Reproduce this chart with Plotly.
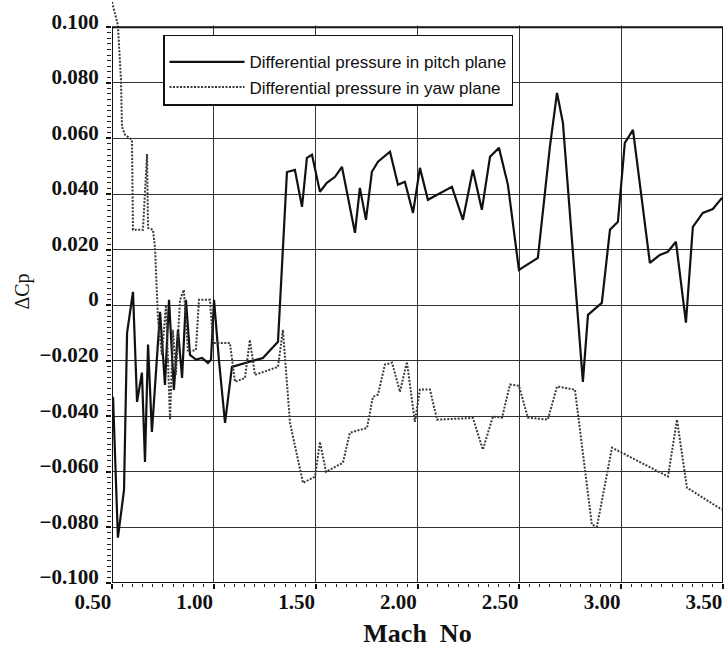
import numpy as np
import plotly.graph_objects as go

# ---- data ----
pitch_mach = [0.505, 0.529, 0.559, 0.574, 0.603, 0.623, 0.647, 0.662, 0.677, 0.696,
              0.736, 0.760, 0.780, 0.804, 0.824, 0.844, 0.863, 0.883, 0.912, 0.942,
              0.971, 0.986, 1.001, 1.025, 1.055, 1.089, 1.241, 1.315, 1.359, 1.398,
              1.433, 1.457, 1.482, 1.521, 1.555, 1.595, 1.629, 1.693, 1.717, 1.747,
              1.776, 1.806, 1.865, 1.904, 1.938, 1.978, 2.012, 2.051, 2.169, 2.223,
              2.272, 2.316, 2.356, 2.400, 2.444, 2.498, 2.591, 2.650, 2.685, 2.714,
              2.812, 2.837, 2.905, 2.945, 2.984, 3.018, 3.058, 3.141, 3.190, 3.229,
              3.269, 3.318, 3.352, 3.401, 3.450, 3.495]
pitch_dcp = [-0.0330, -0.0837, -0.0665, -0.0100, 0.0048, -0.0348, -0.0243, -0.0564, -0.0142, -0.0456,
             -0.0024, -0.0287, 0.0019, -0.0305, -0.0089, -0.0262, 0.0019, -0.0179, -0.0196, -0.0190,
             -0.0208, -0.0197, 0.0019, -0.0197, -0.0424, -0.0222, -0.0190, -0.0132, 0.0479, 0.0487,
             0.0354, 0.0530, 0.0541, 0.0408, 0.0440, 0.0462, 0.0498, 0.0260, 0.0422, 0.0307,
             0.0480, 0.0516, 0.0552, 0.0433, 0.0444, 0.0332, 0.0494, 0.0379, 0.0426, 0.0307,
             0.0487, 0.0343, 0.0534, 0.0566, 0.0433, 0.0127, 0.0170, 0.0570, 0.0764, 0.0656,
             -0.0276, -0.0035, 0.0008, 0.0271, 0.0300, 0.0584, 0.0631, 0.0152, 0.0181, 0.0192,
             0.0228, -0.0063, 0.0282, 0.0332, 0.0346, 0.0386]

yaw_mach = [0.500, 0.529, 0.544, 0.549, 0.564, 0.598, 0.603, 0.652, 0.672, 0.677,
            0.701, 0.711, 0.726, 0.745, 0.765, 0.785, 0.799, 0.814, 0.834, 0.853,
            0.873, 0.912, 0.927, 0.981, 0.996, 1.079, 1.104, 1.153, 1.177, 1.202,
            1.315, 1.339, 1.374, 1.438, 1.497, 1.521, 1.551, 1.634, 1.668, 1.752,
            1.781, 1.806, 1.840, 1.875, 1.914, 1.948, 1.987, 2.012, 2.061, 2.096,
            2.272, 2.321, 2.370, 2.415, 2.454, 2.498, 2.542, 2.640, 2.685, 2.773,
            2.856, 2.881, 2.955, 3.230, 3.274, 3.323, 3.495]
yaw_dcp = [0.1091, 0.1008, 0.0811, 0.0642, 0.0613, 0.0595, 0.0271, 0.0271, 0.0544, 0.0278,
           0.0271, 0.0210, -0.0053, -0.0179, 0.0001, -0.0413, -0.0089, -0.0251, 0.0019, 0.0055,
           -0.0168, -0.0161, 0.0019, 0.0019, -0.0136, -0.0136, -0.0276, -0.0262, -0.0125, -0.0251,
           -0.0222, -0.0089, -0.0424, -0.0640, -0.0617, -0.0492, -0.0600, -0.0567, -0.0459, -0.0442,
           -0.0330, -0.0322, -0.0214, -0.0207, -0.0312, -0.0204, -0.0420, -0.0304, -0.0304, -0.0412,
           -0.0406, -0.0520, -0.0401, -0.0405, -0.0286, -0.0290, -0.0405, -0.0412, -0.0293, -0.0304,
           -0.0790, -0.0797, -0.0513, -0.0617, -0.0412, -0.0657, -0.0736]

x_ticks = [0.5, 1.0, 1.5, 2.0, 2.5, 3.0, 3.5]
x_tick_text = ["0.50", "1.00", "1.50", "2.00", "2.50", "3.00", "3.50"]
y_ticks = [-0.1, -0.08, -0.06, -0.04, -0.02, 0.0, 0.02, 0.04, 0.06, 0.08, 0.1]
y_tick_text = ["\u22120.100", "\u22120.080", "\u22120.060", "\u22120.040", "\u22120.020", "0",
               "0.020", "0.040", "0.060", "0.080", "0.100"]

X_MIN, X_MAX = 0.5, 3.5
Y_MIN, Y_MAX = -0.1, 0.1
Y_TOP = 0.10982  # plot area extends a little above the frame so the yaw line can leave it

tick_font = dict(family="Liberation Serif", size=21, color="#111", weight="bold")
grid_col = "#333333"

fig = go.Figure()
fig.add_trace(go.Scatter(x=pitch_mach, y=pitch_dcp, mode="lines",
                         name="Differential pressure in pitch plane", legendgroup="a",
                         line=dict(color="#111", width=2.2)))
fig.add_trace(go.Scatter(x=yaw_mach, y=yaw_dcp, mode="lines",
                         name="Differential pressure in yaw plane", legendgroup="b",
                         line=dict(color="#3a3a3a", width=2, dash="2px,1.5px")))

# white band above the frame (hides grid there, drawn below traces)
fig.add_shape(type="rect", xref="x", yref="y", x0=X_MIN - 0.01, x1=X_MAX + 0.01,
              y0=Y_MAX + 0.0006, y1=Y_TOP + 0.001, fillcolor="white",
              line=dict(width=0), layer="between")
# frame
fig.add_shape(type="rect", xref="x", yref="y", x0=X_MIN, x1=X_MAX, y0=Y_MIN, y1=Y_MAX,
              line=dict(color="#111", width=2), fillcolor="rgba(0,0,0,0)", layer="above")

fig.update_xaxes(range=[X_MIN, X_MAX], tickvals=x_ticks, ticktext=x_tick_text,
                 showgrid=True, gridcolor=grid_col, gridwidth=1.4, zeroline=False,
                 showline=False, ticks="outside", ticklen=5, tickcolor="#111", tickwidth=1.5,
                 ticklabelposition="outside left", tickfont=tick_font,
                 minor=dict(tickvals=list(np.round(np.arange(0.5, 3.5001, 0.05), 3)),
                            ticks="outside", ticklen=3, tickcolor="#222", tickwidth=1.2,
                            showgrid=False),
                 title=dict(text="Mach\u00a0\u00a0No", standoff=12,
                            font=dict(family="Liberation Serif", size=26, color="#111",
                                      weight="bold")),
                 automargin=False)
fig.update_yaxes(range=[Y_MIN, Y_TOP], tickvals=y_ticks, ticktext=y_tick_text,
                 showgrid=True, gridcolor=grid_col, gridwidth=1.4, zeroline=False,
                 showline=False, ticks="outside", ticklen=5, tickcolor="#111", tickwidth=1.5,
                 ticklabelshift=-6, ticklabelstandoff=3, tickfont=tick_font,
                 minor=dict(tickvals=list(np.round(np.arange(-0.1, 0.1001, 0.002), 4)),
                            ticks="outside", ticklen=4, tickcolor="#222", tickwidth=1.2,
                            showgrid=False),
                 title=dict(text="\u0394Cp", standoff=4,
                            font=dict(family="Liberation Serif", size=20, color="#111")),
                 automargin=False)

fig.update_layout(
    width=727, height=648,
    margin=dict(l=112, r=4, t=0, b=65),
    plot_bgcolor="white", paper_bgcolor="white",
    showlegend=True,
    legend=dict(x=0.0835, y=0.94, xanchor="left", yanchor="top",
                bgcolor="white", bordercolor="#111", borderwidth=1.5,
                font=dict(family="Liberation Sans", size=17, color="#111"),
                title=dict(text="\u00a0", font=dict(size=6)),
                itemwidth=75, tracegroupgap=0),
)

fig.write_html("out.html")
